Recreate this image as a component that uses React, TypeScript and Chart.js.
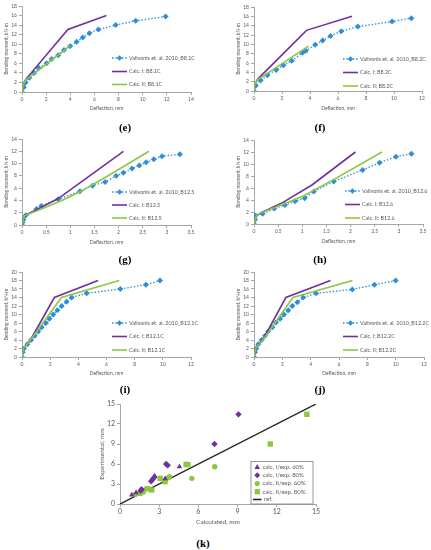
import React, { useEffect, useRef } from 'react';
import { Chart, registerables } from 'chart.js';
Chart.register(...registerables);

const FONT = 'Lato, "Open Sans", "Liberation Sans", sans-serif';
const BLUE = '#2E8FD8';
const PURPLE = '#7030A0';
const GREEN = '#8DC63F';
const AXIS = '#A6A6A6';
const TXT = '#595959';

// ---------- (e) B8.1C ----------
const eExpX = [0, 0.15, 0.3, 0.6, 1.0, 1.4, 2.04, 2.46, 3.0, 3.48, 3.98, 4.53, 5.03, 5.58, 6.33, 7.76, 9.42, 11.9];
const eExpY = [0, 1.0, 2.0, 3.0, 4.0, 5.0, 6.0, 6.9, 7.7, 8.8, 9.6, 10.5, 11.4, 12.3, 13.1, 14.0, 14.9, 15.8];
const eC1X = [0, 0.08, 0.3, 3.8, 7.0];
const eC1Y = [0, 1.5, 2.6, 13.1, 16.0];
const eC2X = [0, 0.08, 0.3, 4.0];
const eC2Y = [0, 1.5, 2.5, 9.7];

// ---------- (f) B8.2C ----------
const fExpX = [0, 0.12, 0.48, 0.95, 1.58, 2.1, 2.7, 3.46, 3.7, 4.37, 4.9, 5.47, 6.23, 7.42, 9.86, 11.24];
const fExpY = [0, 1.1, 2.3, 3.4, 4.5, 5.5, 6.5, 8.2, 8.6, 9.9, 10.8, 11.8, 12.8, 13.8, 14.9, 15.6];
const fC1X = [0, 0.08, 0.25, 3.75, 7.0];
const fC1Y = [0, 1.5, 2.5, 13.0, 16.0];
const fC2X = [0, 0.08, 0.25, 3.9];
const fC2Y = [0, 1.5, 2.4, 9.6];

// ---------- (g) B12.5 ----------
const gExpX = [0, 0.01, 0.03, 0.08, 0.3, 0.4, 0.75, 1.2, 1.46, 1.72, 1.95, 2.1, 2.28, 2.43, 2.57, 2.73, 2.9, 3.27];
const gExpY = [0, 0.4, 0.9, 1.6, 2.6, 3.1, 4.2, 5.5, 6.4, 7.0, 8.0, 8.5, 9.2, 9.7, 10.2, 10.7, 11.2, 11.5];
const gC1X = [0, 0.05, 0.35, 0.75, 2.1];
const gC1Y = [0, 1.5, 2.7, 4.3, 12.0];
const gC2X = [0, 0.05, 0.4, 0.8, 1.2, 1.8, 2.63];
const gC2Y = [0, 1.5, 2.6, 3.9, 5.4, 8.1, 12.0];

// ---------- (h) B12.6 ----------
const hExpX = [0, 0.02, 0.03, 0.18, 0.42, 0.64, 0.85, 1.05, 1.24, 1.65, 2.25, 2.6, 2.94, 3.26];
const hExpY = [0, 0.7, 1.4, 1.7, 2.6, 3.15, 3.8, 4.3, 5.4, 7.1, 9.0, 10.2, 11.2, 11.7];
const hC1X = [0, 0.04, 0.15, 0.6, 1.2, 2.1];
const hC1Y = [0, 1.3, 1.9, 3.6, 6.5, 12.0];
const hC2X = [0, 0.04, 0.15, 0.6, 1.0, 1.65, 2.65];
const hC2Y = [0, 1.3, 1.9, 3.3, 4.6, 7.4, 12.0];

// ---------- (i) B12.1C ----------
const iExpX = [0, 0.05, 0.14, 0.38, 0.65, 0.9, 1.15, 1.4, 1.7, 1.94, 2.22, 2.51, 2.82, 3.17, 3.53, 4.59, 6.98, 8.8, 9.8];
const iExpY = [0, 1.1, 2, 3, 4, 5, 6, 7, 8, 9, 10, 11, 12, 13, 14, 15, 16, 17, 18];
const iC1X = [0, 0.1, 0.6, 2.3, 5.4];
const iC1Y = [0, 2, 4, 14, 18];
const iC2X = [0, 0.1, 0.6, 2.8, 6.9];
const iC2Y = [0, 2, 4, 14, 18];

// ---------- (j) B12.2C ----------
const jExpX = [0, 0.07, 0.16, 0.3, 0.54, 0.78, 1.0, 1.3, 1.55, 1.84, 2.12, 2.42, 2.7, 3.06, 3.48, 4.38, 6.94, 8.5, 10.0];
const jExpY = [0, 1.1, 2, 3, 4, 5, 6, 7, 8.1, 9, 10, 11, 12, 12.9, 14, 15, 15.9, 17, 18];
const jC1X = [0, 0.1, 0.7, 2.25, 5.4];
const jC1Y = [0, 2, 4.5, 14, 18];
const jC2X = [0, 0.1, 0.7, 2.75, 6.95];
const jC2Y = [0, 2, 4.3, 14, 18];

// ---------- (k) calculated vs experimental ----------
const kI60X = [0.9, 1.23, 1.6, 2.56, 2.65, 3.45, 4.55];
const kI60Y = [1.35, 1.7, 2.2, 4.0, 4.2, 3.8, 5.6];
const kI80X = [1.58, 1.66, 2.38, 2.5, 2.63, 3.53, 3.65, 7.23, 9.07];
const kI80Y = [2.0, 2.2, 3.4, 3.7, 4.0, 6.0, 5.8, 9.0, 13.45];
const kII60X = [1.15, 1.48, 1.79, 2.05, 2.2, 3.7, 3.78, 5.5, 7.25];
const kII60Y = [1.45, 1.6, 1.8, 2.35, 2.3, 3.95, 4.1, 3.85, 5.6];
const kII80X = [1.53, 2.1, 2.43, 3.07, 3.45, 5.06, 5.2, 11.5, 14.3];
const kII80Y = [1.6, 2.3, 2.1, 3.85, 3.35, 5.95, 5.9, 9.0, 13.45];
const kRefX = [0, 15];
const kRefY = [0, 15];

const kLabels = ['calc. I/exp. 60%', 'calc. I/exp. 80%', 'calc. II/exp. 60%', 'calc. II/exp. 80%', 'ref.'];

const pts = (xs: number[], ys: number[]) => xs.map((x, i) => ({ x, y: ys[i] }));

function expDs(xs: number[], ys: number[]) {
  return {
    data: pts(xs, ys), showLine: true, borderColor: BLUE, borderDash: [1.5, 1.8], borderWidth: 1.3,
    pointStyle: 'rectRot', pointRadius: 3, pointBackgroundColor: BLUE, pointBorderColor: BLUE, pointBorderWidth: 0,
  };
}
function lineDs(xs: number[], ys: number[], color: string, w = 1.6) {
  return { data: pts(xs, ys), showLine: true, borderColor: color, borderWidth: w, pointRadius: 0 };
}
function markDs(xs: number[], ys: number[], color: string, style: string, r: number) {
  return {
    data: pts(xs, ys), showLine: false, pointStyle: style, pointRadius: r,
    pointBackgroundColor: color, pointBorderColor: color, pointBorderWidth: 0,
  };
}

type LegItem = { label: string; color: string; kind: 'line' | 'exp' | 'triangle' | 'diamond' | 'circle' | 'square' };

type Spec = {
  cx: number; cy: number; cw: number; ch: number;
  L: number; T: number; R: number; B: number;
  yTitleX: number; xTitleY: number;
  xMax: number; xStep: number; yMax: number; yStep: number;
  xTitle: string; yTitle: string;
  tickFs: number; titleFs: number; legFs: number;
  datasets: any[];
  legItems: LegItem[];
  legX1: number; legX2: number; legTx: number; legYs: number[];
  legBox?: [number, number, number, number];
  refTx?: number;
};

function drawMarker(ctx: CanvasRenderingContext2D, kind: string, x: number, y: number, color: string) {
  ctx.fillStyle = color;
  ctx.beginPath();
  if (kind === 'exp' || kind === 'diamond') {
    const r = kind === 'exp' ? 2.8 : 3;
    ctx.moveTo(x, y - r); ctx.lineTo(x + r, y); ctx.lineTo(x, y + r); ctx.lineTo(x - r, y);
  } else if (kind === 'triangle') {
    ctx.moveTo(x, y - 3); ctx.lineTo(x + 2.8, y + 2); ctx.lineTo(x - 2.8, y + 2);
  } else if (kind === 'circle') {
    ctx.arc(x, y, 2.6, 0, Math.PI * 2);
  } else if (kind === 'square') {
    ctx.rect(x - 2.6, y - 2.6, 5.2, 5.2);
  }
  ctx.closePath();
  ctx.fill();
}

function Panel({ s }: { s: Spec }) {
  const ref = useRef<HTMLCanvasElement>(null);
  useEffect(() => {
    const lhT = s.titleFs * 1.2;
    const legendPlugin = {
      id: 'customLegend',
      afterDraw(chart: any) {
        const ctx: CanvasRenderingContext2D = chart.ctx;
        ctx.save();
        ctx.translate(-s.cx, -s.cy);
        if (s.legBox) {
          const [x1, y1, x2, y2] = s.legBox;
          ctx.fillStyle = '#ffffff';
          ctx.fillRect(x1, y1, x2 - x1, y2 - y1);
          ctx.strokeStyle = '#7F7F7F';
          ctx.lineWidth = 0.8;
          ctx.strokeRect(x1, y1, x2 - x1, y2 - y1);
        }
        ctx.font = `${s.legFs}px ${FONT}`;
        ctx.textBaseline = 'middle';
        ctx.textAlign = 'left';
        s.legItems.forEach((it, i) => {
          const y = s.legYs[i];
          let tx = s.legTx;
          if (it.kind === 'line' || it.kind === 'exp') {
            ctx.strokeStyle = it.color;
            ctx.lineWidth = it.kind === 'exp' ? 1.3 : 1.6;
            ctx.setLineDash(it.kind === 'exp' ? [1.5, 1.8] : []);
            ctx.beginPath();
            ctx.moveTo(s.legX1, y);
            ctx.lineTo(s.legX2, y);
            ctx.stroke();
            ctx.setLineDash([]);
            if (it.kind === 'exp') drawMarker(ctx, 'exp', (s.legX1 + s.legX2) / 2, y, it.color);
            if (s.refTx !== undefined && it.kind === 'line') tx = s.refTx;
          } else {
            drawMarker(ctx, it.kind, (s.legX1 + s.legX2) / 2, y, it.color);
          }
          ctx.fillStyle = TXT;
          ctx.fillText(it.label, tx, y);
        });
        ctx.restore();
      },
    };
    const tickFont = { family: FONT, size: s.tickFs };
    const titleFont = { family: FONT, size: s.titleFs };
    const chart = new Chart(ref.current as HTMLCanvasElement, {
      type: 'scatter',
      data: { datasets: s.datasets },
      options: {
        animation: false,
        responsive: false,
        maintainAspectRatio: false,
        layout: { padding: { top: s.T - s.cy, right: s.cx + s.cw - s.R, left: 0, bottom: 0 } },
        plugins: { legend: { display: false }, tooltip: { enabled: false } },
        scales: {
          x: {
            type: 'linear', min: 0, max: s.xMax,
            ticks: { stepSize: s.xStep, callback: (v: any) => String(v), font: tickFont, color: TXT, padding: 1, maxRotation: 0, autoSkip: false },
            grid: { display: true, drawOnChartArea: false, drawTicks: true, tickLength: 3, color: AXIS },
            border: { display: true, color: AXIS },
            title: { display: true, text: s.xTitle, font: titleFont, color: TXT, padding: { top: 0, bottom: s.cy + s.ch - s.xTitleY - lhT / 2 } },
            afterFit: (sc: any) => { sc.height = s.cy + s.ch - s.B; },
          },
          y: {
            type: 'linear', min: 0, max: s.yMax,
            ticks: { stepSize: s.yStep, callback: (v: any) => String(v), font: tickFont, color: TXT, padding: 2, autoSkip: false },
            grid: { display: true, drawOnChartArea: false, drawTicks: true, tickLength: 3, color: AXIS },
            border: { display: true, color: AXIS },
            title: { display: true, text: s.yTitle, font: titleFont, color: TXT, padding: { top: s.yTitleX - s.cx - lhT / 2, bottom: 0 } },
            afterFit: (sc: any) => { sc.width = s.L - s.cx; },
          },
        },
      } as any,
      plugins: [legendPlugin],
    });
    return () => chart.destroy();
  }, []);
  return (
    <canvas
      ref={ref}
      width={s.cw}
      height={s.ch}
      style={{ position: 'absolute', left: s.cx, top: s.cy, width: s.cw, height: s.ch }}
    />
  );
}

const YT = 'Bending moment, kN·m';
const XT = 'Deflection, mm';

function momentPanel(
  cx: number, cy: number, L: number, T: number, R: number, B: number,
  xMax: number, xStep: number, yMax: number,
  name: string, exp: [number[], number[]], c1: [number[], number[]], c2: [number[], number[]],
  legX1: number, legTx: number, legYs: number[], yTitleX: number, xTitleY: number,
): Spec {
  return {
    cx, cy, cw: 215, ch: 116, L, T, R, B, yTitleX, xTitleY,
    xMax, xStep, yMax, yStep: 2, xTitle: XT, yTitle: YT,
    tickFs: 5, titleFs: 5, legFs: 5.4,
    datasets: [lineDs(c2[0], c2[1], GREEN), lineDs(c1[0], c1[1], PURPLE), expDs(exp[0], exp[1])],
    legItems: [
      { label: `Valivonis et. al. 2010_${name}`, color: BLUE, kind: 'exp' },
      { label: `Calc. I; ${name}`, color: PURPLE, kind: 'line' },
      { label: `Calc. II; ${name}`, color: GREEN, kind: 'line' },
    ],
    legX1, legX2: legX1 + 15, legTx, legYs,
  };
}

const specs: Spec[] = [
  momentPanel(0, 0, 22, 6, 191, 92, 14, 2, 18, 'B8.1C', [eExpX, eExpY], [eC1X, eC1Y], [eC2X, eC2Y], 112, 129, [58, 71.5, 84.5], 6, 108),
  momentPanel(216, 0, 254, 7, 422, 91, 12, 2, 18, 'B8.2C', [fExpX, fExpY], [fC1X, fC1Y], [fC2X, fC2Y], 343, 360, [59, 72.5, 86], 238, 108),
  momentPanel(0, 130, 22, 139, 191, 225, 3.5, 0.5, 14, 'B12.5', [gExpX, gExpY], [gC1X, gC1Y], [gC2X, gC2Y], 112, 129, [192, 205, 218], 6, 242),
  momentPanel(216, 130, 254, 140, 423, 224, 3.5, 0.5, 14, 'B12.6', [hExpX, hExpY], [hC1X, hC1Y], [hC2X, hC2Y], 345, 362, [191, 204.5, 218], 238, 241),
  momentPanel(0, 262, 22, 272, 191, 357, 12, 2, 20, 'B12.1C', [iExpX, iExpY], [iC1X, iC1Y], [iC2X, iC2Y], 112, 129, [323, 336.5, 350], 6, 373),
  momentPanel(216, 262, 254, 272, 424, 357, 12, 2, 20, 'B12.2C', [jExpX, jExpY], [jC1X, jC1Y], [jC2X, jC2Y], 343, 360, [323, 336.5, 350], 238, 373),
  {
    cx: 90, cy: 392, cw: 250, ch: 138, L: 120, T: 404, R: 316, B: 504, yTitleX: 102, xTitleY: 522,
    xMax: 15, xStep: 3, yMax: 15, yStep: 3, xTitle: 'Calculated, mm', yTitle: 'Experimental, mm',
    tickFs: 7, titleFs: 6.5, legFs: 6,
    datasets: [
      markDs(kI60X, kI60Y, PURPLE, 'triangle', 3.2),
      markDs(kI80X, kI80Y, PURPLE, 'rectRot', 3.2),
      markDs(kII80X, kII80Y, GREEN, 'rect', 3.8),
      markDs(kII60X, kII60Y, GREEN, 'circle', 2.7),
      lineDs(kRefX, kRefY, '#262626', 1.4),
    ],
    legItems: [
      { label: kLabels[0], color: PURPLE, kind: 'triangle' },
      { label: kLabels[1], color: PURPLE, kind: 'diamond' },
      { label: kLabels[2], color: GREEN, kind: 'circle' },
      { label: kLabels[3], color: GREEN, kind: 'square' },
      { label: kLabels[4], color: '#262626', kind: 'line' },
    ],
    legX1: 253, legX2: 261.5, legTx: 262.5, refTx: 264, legYs: [467, 475.3, 483.5, 491.7, 499.5],
    legBox: [251, 461.5, 313, 504],
  },
];

const panelLabels: [string, number, number][] = [
  ['(e)', 125, 127], ['(f)', 320, 127],
  ['(g)', 125, 259], ['(h)', 320, 259],
  ['(i)', 125, 389], ['(j)', 320, 389],
  ['(k)', 203, 543],
];

export default function App() {
  return (
    <div style={{ position: 'absolute', left: 0, top: 0, width: 431, height: 550, background: '#fff', overflow: 'hidden' }}>
      {specs.map((s, i) => <Panel key={i} s={s} />)}
      {panelLabels.map(([t, x, y]) => (
        <div
          key={t}
          style={{
            position: 'absolute', left: x, top: y, transform: 'translate(-50%, -50%)',
            font: 'bold 11px "Liberation Serif", "DejaVu Serif", serif', color: '#000', whiteSpace: 'nowrap',
          }}
        >
          {t}
        </div>
      ))}
    </div>
  );
}
